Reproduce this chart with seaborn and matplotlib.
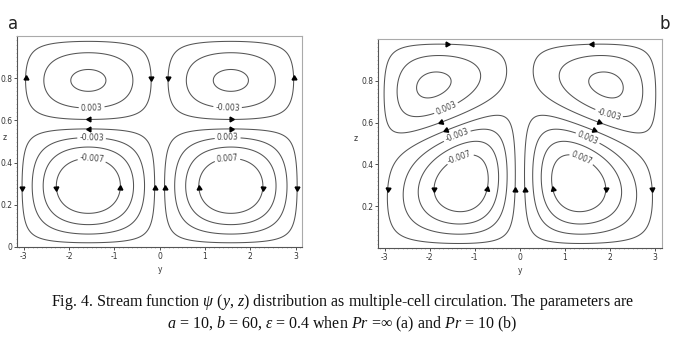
import numpy as np
import matplotlib
matplotlib.use("Agg")
import matplotlib.pyplot as plt
import seaborn as sns
from matplotlib.ticker import MultipleLocator

# contour levels of the stream function
levels = [-0.007, -0.005, -0.003, -0.001, 0.001, 0.003, 0.005, 0.007]

# cell parameters (a: Pr = inf, b: Pr = 10)
amp_lower = [0.0092, 0.0090]
amp_upper = [0.0054, 0.0055]
peak_lower = [1.571, 1.25]     # |y| of the lower cell centre
peak_upper = [1.571, 1.93]     # |y| of the upper cell centre
z_interface = [0.58, 0.59]     # height of the cell boundary at |y| = pi/2
interface_tilt = [0.0, -0.08]  # change of that height per unit |y|
shape_lower = [1.0, 1.1]

y_ticks = [-3, -2, -1, 0, 1, 2, 3]
z_ticks = [[0, 0.2, 0.4, 0.6, 0.8], [0.2, 0.4, 0.6, 0.8]]

# where the label of each contour sits and where direction arrows sit
label_hints = [
    [(-1.5, 0.67), (1.5, 0.67), (-1.5, 0.515), (1.5, 0.515), (-1.5, 0.40), (1.5, 0.40)],
    [(-1.65, 0.675), (1.97, 0.64), (-1.38, 0.53), (1.5, 0.525), (-1.27, 0.40), (1.31, 0.40)],
]
arrow_hints = [
    [(-3.0, 0.8), (-0.15, 0.8), (-1.57, 0.6), (0.15, 0.8), (3.0, 0.8), (1.57, 0.6),
     (-1.57, 0.555), (-3.05, 0.28), (-0.1, 0.28), (-2.28, 0.28), (-0.87, 0.28),
     (1.57, 0.555), (3.05, 0.28), (0.1, 0.28), (2.28, 0.28), (0.87, 0.28)],
    [(-1.6, 0.97), (-1.72, 0.59), (-1.6, 0.545), (-2.95, 0.28), (-1.83, 0.28),
     (-0.68, 0.28), (-0.1, 0.28),
     (1.6, 0.97), (1.72, 0.59), (1.6, 0.545), (2.95, 0.28), (1.83, 0.28),
     (0.68, 0.28), (0.1, 0.28)],
]

caption_1 = (r"Fig. 4. Stream function $\psi$ ($y$, $z$) distribution as multiple-cell "
             r"circulation. The parameters are")
caption_2 = (r"$a$ = 10, $b$ = 60, $\varepsilon$ = 0.4 when $Pr$ =$\infty$ (a) "
             r"and $Pr$ = 10 (b)")


def y_profile(s, peak, q=1.0):
    # sine across the half-width, warped so that its maximum sits at `peak`
    c = (peak - np.pi / 2) / np.sin(peak)
    x = (s - c * np.sin(s)) / np.pi
    return np.clip(np.sin(np.pi * x), 0, None) ** q


def stream(Y, Z, i):
    s = np.abs(Y)
    zi = z_interface[i] + interface_tilt[i] * (s - np.pi / 2)
    low = Z < zi
    zl = np.where(low, np.sin(np.pi * Z / zi), 0.0)
    zu = np.where(low, 0.0, np.sin(np.pi * (Z - zi) / (1 - zi)))
    psi = amp_lower[i] * y_profile(s, peak_lower[i], shape_lower[i]) * zl
    psi -= amp_upper[i] * y_profile(s, peak_upper[i]) * zu
    return np.sign(Y) * psi


sns.set_theme(style="white")
plt.rcParams["axes.unicode_minus"] = False
plt.rcParams["contour.negative_linestyle"] = "solid"
plt.rcParams["mathtext.fontset"] = "custom"
plt.rcParams["mathtext.rm"] = "Liberation Serif"
plt.rcParams["mathtext.it"] = "Liberation Serif:italic"

fig = plt.figure(figsize=(6.85, 3.44), dpi=100)
boxes = [[0.025, 0.282, 0.416, 0.613], [0.552, 0.279, 0.414, 0.608]]
zlabel_x = [-0.045, -0.08]

yy = np.linspace(-np.pi, np.pi, 500)
zz = np.linspace(0, 1, 400)
YY, ZZ = np.meshgrid(yy, zz)

for i, box in enumerate(boxes):
    ax = fig.add_axes(box)
    psi = stream(YY, ZZ, i)
    cs = ax.contour(YY, ZZ, psi, levels=levels, colors="#555555", linewidths=0.75)
    ax.clabel(cs, fmt="%.3f", fontsize=5.5, inline=True, inline_spacing=2,
              manual=label_hints[i], colors="#444444")

    ax.set_xlim(-np.pi, np.pi)
    ax.set_ylim(0, 1)
    ax.set_xticks(y_ticks)
    ax.set_yticks(z_ticks[i])
    ax.set_yticklabels([f"{t:g}" for t in z_ticks[i]])
    ax.xaxis.set_minor_locator(MultipleLocator(0.1))
    ax.yaxis.set_minor_locator(MultipleLocator(0.02))
    ax.tick_params(which="major", direction="out", length=2, width=0.6,
                   labelsize=5.5, colors="#333333", pad=1.5,
                   bottom=True, left=True)
    ax.tick_params(which="minor", direction="out", length=1, width=0.4,
                   colors="#888888", bottom=True, left=True)
    ax.set_xlabel("y", fontsize=5.5, color="#333333", labelpad=3)
    ax.set_ylabel("z", fontsize=5.5, color="#333333", rotation=0)
    ax.yaxis.set_label_coords(zlabel_x[i], 0.5)
    for side in ["left", "bottom"]:
        ax.spines[side].set_color("#555555")
        ax.spines[side].set_linewidth(0.8)
    for side in ["top", "right"]:
        ax.spines[side].set_color("#aaaaaa")
        ax.spines[side].set_linewidth(0.8)

    # direction arrows: snap each hint onto the nearest drawn contour and
    # orient it along the local velocity (u = -dpsi/dz, w = dpsi/dy)
    verts = np.vstack([seg for segs in cs.allsegs for seg in segs if len(seg)])
    dpsi_dz, dpsi_dy = np.gradient(psi, zz, yy)
    fw, fh = fig.get_size_inches() * fig.dpi
    sx = box[2] * fw / (2 * np.pi)
    sz = box[3] * fh
    for hy, hz in arrow_hints[i]:
        d = (verts[:, 0] - hy) ** 2 * sx ** 2 + (verts[:, 1] - hz) ** 2 * sz ** 2
        py, pz = verts[np.argmin(d)]
        iy = np.argmin(np.abs(yy - py))
        iz = np.argmin(np.abs(zz - pz))
        u = -dpsi_dz[iz, iy] * sx
        w = dpsi_dy[iz, iy] * sz
        ang = np.degrees(np.arctan2(w, u)) - 90
        ax.plot(py, pz, marker=(3, 0, ang), markersize=4, color="black",
                linestyle="none", clip_on=False)

fig.text(0.011, 0.915, "a", fontsize=12, color="#222222")
fig.text(0.963, 0.915, "b", fontsize=12, color="#222222")
fig.text(0.5, 0.11, caption_1, ha="center", fontsize=11.5,
         family="Liberation Serif", color="#111111")
fig.text(0.5, 0.045, caption_2, ha="center", fontsize=11.5,
         family="Liberation Serif", color="#111111")

fig.savefig("out.png", dpi=100)
